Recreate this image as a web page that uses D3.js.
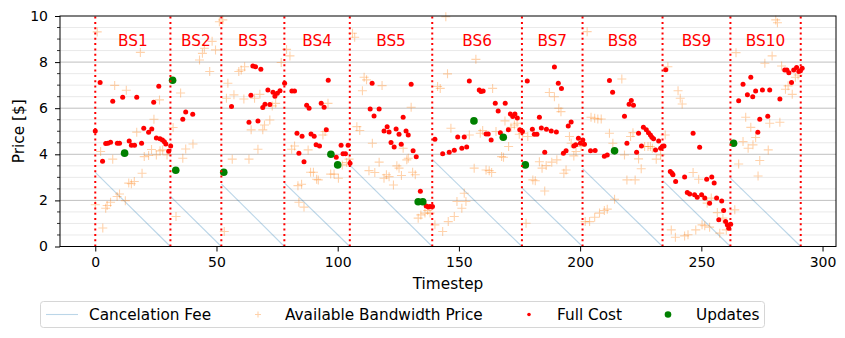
<!DOCTYPE html>
<html>
<head>
<meta charset="utf-8">
<script src="https://cdn.jsdelivr.net/npm/d3@7"></script>
<style>
  body { margin: 0; background: #fff; }
  svg { display: block; font-family: "DejaVu Sans", sans-serif; }
</style>
</head>
<body>
<div id="chart"></div>
<script>
// segment boundaries (timesteps) and labels
var bounds = [0, 31, 52, 78, 105, 139, 176, 201, 234, 262, 291];
var segLabels = ["BS1","BS2","BS3","BS4","BS5","BS6","BS7","BS8","BS9","BS10"];
// cancelation fee at the start of each segment, falls to 0 at its end
var feeStart = [3.22, 2.17, 2.72, 2.76, 3.53, 3.78, 2.54, 3.38, 2.87, 2.97];

var xTicks = [0, 50, 100, 150, 200, 250, 300];
var yTicks = [0, 2, 4, 6, 8, 10];

// [timestep, price]
var fullCost = [
  [0,5.01],[2,7.12],[3,3.70],[4.3,4.47],[5.2,4.48],[6.3,4.52],[7.2,6.30],[9.1,4.48],[10,4.48],[11.3,6.47],
  [14,4.58],[14.9,4.39],[16.2,4.39],[17.1,6.47],[19.1,4.48],[20,5.13],[22,4.96],[23.3,5.10],[24.1,6.26],
  [25.2,4.71],[26.2,6.95],[26.7,4.68],[27.7,4.62],[28.5,4.54],[29.1,4.45],[30.3,4.13],[31.1,4.36],
  [36.1,5.52],[37.3,5.84],[40.2,5.74],
  [56.2,6.07],[63.4,5.39],[64.2,6.56],[65,7.83],[66.1,7.80],[67.1,5.45],[68.3,7.69],[69.1,6.03],[70,6.17],
  [71.2,6.79],[72,6.16],[73.3,6.69],[74.1,6.52],[75.1,6.65],[76.2,6.76],[78.1,7.08],
  [81.1,6.75],[82.2,6.75],[83.2,4.91],[84,4.05],[85.3,4.78],[86.1,3.68],[87.2,6.13],[88.2,6.00],[89,4.88],
  [90.3,4.78],[91.1,4.41],[92.5,4.36],[93.2,6.21],[94.4,6.04],[95.3,5.06],[96.1,7.21],[99.4,3.87],
  [101.4,4.39],[102.2,4.02],[103.2,4.02],[104.3,4.39],[105.1,3.61],
  [113.4,5.97],[114.2,7.08],[115,5.66],[117.1,5.97],[119.1,5.01],[120.4,5.19],[121.2,4.97],[122,4.51],
  [123.3,4.32],[124.1,5.10],[125.3,4.87],[126.2,4.44],[127,5.61],[128.2,5.01],[129.1,4.84],[130.3,7.04],
  [131.1,4.15],[132.4,3.89],[134.1,2.40],[136.5,1.76],[137.4,1.71],[138.1,1.73],[139.1,1.73],[140.1,4.65],
  [143.3,4.02],[146,4.09],[148.1,4.18],[149.5,4.75],[151.2,4.26],[152.2,4.75],[153.2,4.32],[154.3,7.18],
  [158.4,6.79],[159.1,6.72],[160,6.75],[161.2,4.88],[162.1,4.88],[163.3,4.62],[165,6.21],[166.2,5.88],
  [167.1,4.93],[169.1,6.21],[170.4,5.06],[171.2,5.75],[172.2,5.64],[173.1,5.75],[174.1,5.58],[175.1,5.06],[176.2,4.99],
  [178.2,7.18],[180.3,5.09],[181.1,4.87],[182.2,4.87],[183.2,5.61],[184,5.14],[185.4,4.09],[186.1,5.09],
  [188.1,5.01],[189.4,7.79],[190.2,4.97],[191,7.08],[192.3,6.86],[193.1,4.05],[194.2,4.15],[195.1,5.23],
  [196.3,5.40],[197.4,4.36],[198.2,4.41],[199.3,4.70],[200.1,4.48],[201.1,4.62],[201.8,4.44],
  [204.3,4.15],[206.2,4.16],[210,3.92],[211.2,3.97],[212.1,7.20],[213.4,6.69],[218.3,5.65],[219.3,4.48],
  [220.2,6.17],[221.1,6.33],[222,6.13],[223.3,4.09],[224.1,4.91],[225.3,4.36],[226.1,5.17],[227.3,5.06],
  [228.2,4.94],[229,4.84],[229.6,4.74],[230.3,4.68],[231.1,4.19],[232.4,4.58],[233.2,4.26],[233.9,4.34],
  [234.6,4.36],[235.3,7.67],
  [237.2,3.25],[237.9,3.18],[238.3,3.11],[239.4,2.82],[243.1,3.01],[244.2,2.34],[245.2,2.28],[246.6,4.91],
  [247.2,2.24],[248.3,2.14],[249.3,4.31],[250.1,2.24],[251.4,2.10],[252.2,2.92],[253.4,1.88],[254.3,3.02],
  [255.3,2.75],[256.3,2.10],[257.2,1.16],[258.4,1.97],[259.2,1.56],[260,1.08],[260.7,0.94],[261.3,0.79],[262.1,0.97],
  [265.4,6.32],[267.2,7.04],[269,6.58],[270.4,7.34],[271.2,6.50],[272.4,6.75],[273.3,4.96],[274.1,5.52],
  [275.2,6.79],[277.4,5.65],[278.2,6.79],[282.4,6.40],[284.4,7.66],[285.3,7.66],[286.1,7.54],[287.2,7.12],
  [288.1,7.66],[289.3,7.77],[290.2,7.59],[290.9,7.63],[291.6,7.73]
];

var bandwidth = [
  [0,1.81],[0.8,9.31],[2.2,4.12],[3.1,0.80],[4.3,1.66],[4.9,1.78],[6.3,1.92],[7.2,3.79],[8,6.99],[9,2.17],
  [10,2.28],[12.4,1.99],[12.8,6.78],[13.8,2.75],[14.9,2.72],[16.1,2.82],[17.1,4.96],[18.6,8.42],[19.3,3.18],
  [20.2,3.90],[22,3.95],[23.2,4.21],[24.2,5.52],[25.2,3.97],[26.5,6.36],[26.7,4.15],[27.8,4.19],[29.6,3.97],[32.1,5.16],
  [33.3,1.30],[35.2,6.66],[36.1,3.83],[37.3,4.23],[40.3,4.45],[43,8.09],[44.2,8.38],[45,8.60],[47.2,7.59],
  [48.2,8.90],[49.6,8.53],[51.2,9.75],[52.6,9.83],
  [53.2,0.65],[54.1,6.43],[54.7,7.08],[56.5,3.79],[57.2,6.58],[59.2,7.59],[60.2,7.66],[61.3,6.40],[61.6,7.80],
  [63.4,3.79],[64.3,5.06],[65.7,6.43],[67.1,4.22],[67.9,6.60],[69.1,5.06],[69.8,5.27],[72,5.49],[73,6.10],
  [74.4,6.21],[76.7,7.98],[78.9,8.55],[80.3,8.27],
  [81,4.22],[82.2,4.36],[83.6,2.64],[84,1.92],[85.1,2.70],[86.1,1.71],[87.8,4.19],[88.8,3.22],[90,3.22],
  [91.3,2.92],[92,2.89],[93.9,4.84],[94.8,4.99],[96,6.21],[97.1,3.14],[98.5,3.14],[100.3,2.96],[101.9,3.54],
  [103.7,3.64],[104.7,3.79],[106.1,9.25],[107,9.08],
  [107.9,5.20],[109.1,5.03],[110.2,6.76],[110.9,7.34],[111.9,7.23],[112.9,3.29],[114.3,4.48],[115.3,3.21],
  [117.1,3.66],[118.3,6.98],[119.1,2.96],[120.1,3.11],[121.2,3.03],[123,2.67],[124.4,3.50],[125.3,3.40],
  [126.3,3.08],[127,4.26],[128.5,3.76],[129.1,3.83],[130.3,6.04],[130.9,3.22],[132,3.11],[133.2,1.23],
  [134.3,1.37],[136,1.45],[137.1,1.56],[138.1,1.45],
  [140.1,0.94],[141.2,6.94],[142.3,6.86],[143.3,0.65],[144.6,9.97],[145.3,7.49],[145.6,1.08],[146.7,5.13],
  [148.1,1.30],[149.2,1.95],[151.2,1.66],[152.2,2.31],[152.9,1.95],[154.3,4.84],[156.3,3.40],[157,8.12],
  [158.8,4.91],[159.8,5.03],[161.2,3.32],[162.5,3.29],[163.5,3.21],[163.9,6.86],[165.3,4.99],[167.6,3.90],
  [168.4,3.87],[169,5.45],[170.5,4.34],[171.5,5.17],[172.9,5.27],[174,5.35],[174.9,4.87],
  [176.3,4.91],[177.7,1.01],[178.4,4.77],[180.5,2.89],[181.5,2.85],[183.2,3.68],[184.3,3.40],[185.4,2.41],
  [186,3.51],[187.3,6.68],[188.3,3.66],[189.4,6.50],[190.4,3.76],[191.2,6.00],[192.1,5.85],[193.3,3.18],
  [194.2,3.32],[195.6,4.77],[196.3,4.48],[197.4,3.93],[198.3,4.12],[200.4,4.34],
  [202.1,1.08],[202.9,9.32],[203.9,1.08],[204.5,5.61],[206,5.56],[206,1.27],[207.3,5.53],[208,1.45],
  [208.7,5.53],[210,1.56],[211.2,1.62],[212.1,4.91],[213.5,4.48],[214.2,2.05],[217.2,7.27],[218.3,3.97],
  [219.3,2.89],[220.8,4.77],[221.8,4.94],[222.7,2.89],[224.1,3.80],[225.2,3.37],[226.6,4.34],[228,4.34],
  [229,4.34],[229.8,4.26],[231.4,3.79],[233.2,3.97],[235.1,4.84],[236.2,7.80],
  [237.6,0.72],[239.3,0.40],[240.4,6.76],[241.3,6.43],[242.1,6.18],[243.1,0.46],[244.5,0.51],[246.6,3.21],
  [247.7,0.72],[248.9,2.92],[250.3,0.94],[251.4,0.90],[252.4,1.88],[253.4,0.84],[254.1,2.10],[256.6,1.47],
  [257.6,0.58],[258.9,1.23],[260.3,0.72],[263.8,1.59],
  [264.3,8.41],[265.4,3.58],[267.2,4.55],[268.3,5.61],[269.3,4.26],[270.4,5.17],[271.3,4.41],[272.4,4.73],
  [273.4,3.06],[274.1,3.73],[276.2,7.95],[277.6,4.19],[278.2,5.35],[279.2,8.27],[280.7,9.83],[281.4,9.71],
  [282.4,5.39],[283.1,7.83],[284.7,6.82],[285.8,6.97],[287.5,6.60],[288.8,7.34],[289.9,7.44]
];

var updates = [
  [12.1,4.05],[31.9,7.21],[33.2,3.31],[53,3.22],[97.2,4.00],[100,3.54],[133.2,1.94],[135.1,1.94],
  [156.2,5.45],[168.3,4.74],[177.4,3.54],[214.2,4.15],[263.3,4.48]
];

var W = 845, H = 338;
var pL = 60, pR = 836, pT = 16, pB = 246.5;
var bigFont = "15.3px";

var x = d3.scaleLinear().domain([-14.55, 305.55]).range([pL, pR]);
var y = d3.scaleLinear().domain([0, 10]).range([pB, pT]);

var svg = d3.select("#chart").append("svg")
    .attr("width", W).attr("height", H);

// grid: minor every 0.5, major at ticks
var minor = d3.range(0.5, 10, 0.5).filter(function(v){ return v % 2 !== 0; });
svg.append("g").selectAll("line").data(minor).enter().append("line")
    .attr("x1", pL).attr("x2", pR)
    .attr("y1", function(d){ return y(d); }).attr("y2", function(d){ return y(d); })
    .attr("stroke", "#e3e3e3").attr("stroke-width", 0.8);
svg.append("g").selectAll("line").data(yTicks.slice(1, -1)).enter().append("line")
    .attr("x1", pL).attr("x2", pR)
    .attr("y1", function(d){ return y(d); }).attr("y2", function(d){ return y(d); })
    .attr("stroke", "#b0b0b0").attr("stroke-width", 0.8);

var plot = svg.append("g");

// cancelation fee per segment
var line = d3.line().x(function(d){ return x(d[0]); }).y(function(d){ return y(d[1]); });
var feeSegs = feeStart.map(function(f, i){ return [[bounds[i], f], [bounds[i+1], 0]]; });
plot.selectAll("path.fee").data(feeSegs).enter().append("path")
    .attr("class", "fee")
    .attr("d", line)
    .attr("fill", "none").attr("stroke", "#1f77b4").attr("stroke-opacity", 0.3).attr("stroke-width", 1.1);

// available bandwidth price: plus markers
plot.selectAll("path.bw").data(bandwidth).enter().append("path")
    .attr("class", "bw")
    .attr("d", "M-4.5,0H4.5M0,-4.5V4.5")
    .attr("transform", function(d){ return "translate(" + x(d[0]) + "," + y(d[1]) + ")"; })
    .attr("stroke", "#ff7f0e").attr("stroke-opacity", 0.35).attr("stroke-width", 1.1).attr("fill", "none");

// full cost
plot.selectAll("circle.fc").data(fullCost).enter().append("circle")
    .attr("class", "fc")
    .attr("cx", function(d){ return x(d[0]); }).attr("cy", function(d){ return y(d[1]); })
    .attr("r", 2.5).attr("fill", "#ff0000");

// updates
plot.selectAll("circle.up").data(updates).enter().append("circle")
    .attr("class", "up")
    .attr("cx", function(d){ return x(d[0]); }).attr("cy", function(d){ return y(d[1]); })
    .attr("r", 3.8).attr("fill", "#008000");

// segment boundaries
plot.selectAll("line.vb").data(bounds).enter().append("line")
    .attr("class", "vb")
    .attr("x1", function(d){ return x(d); }).attr("x2", function(d){ return x(d); })
    .attr("y1", pB).attr("y2", pT)
    .attr("stroke", "#ff0000").attr("stroke-width", 2).attr("stroke-dasharray", "2,3.3");

// segment labels
plot.selectAll("text.seg").data(segLabels).enter().append("text")
    .attr("class", "seg")
    .attr("x", function(d, i){ return x((bounds[i] + bounds[i+1]) / 2); })
    .attr("y", y(8.92))
    .attr("dy", "0.36em")
    .attr("text-anchor", "middle")
    .attr("fill", "#ff0000")
    .style("font-size", bigFont)
    .text(function(d){ return d; });

// axes
var xAxis = svg.append("g").attr("transform", "translate(0," + pB + ")")
    .call(d3.axisBottom(x).tickValues(xTicks).tickSize(5).tickPadding(6).tickSizeOuter(0));
var yAxis = svg.append("g").attr("transform", "translate(" + pL + ",0)")
    .call(d3.axisLeft(y).tickValues(yTicks).tickSize(5).tickPadding(7).tickSizeOuter(0));
yAxis.selectAll(".minor").data(minor).enter().append("line").attr("class", "minor")
    .attr("x1", 0).attr("x2", -3)
    .attr("y1", function(d){ return y(d); }).attr("y2", function(d){ return y(d); })
    .attr("stroke", "#000").attr("stroke-width", 0.8);
[xAxis, yAxis].forEach(function(a){
  a.selectAll("text").style("font-size", "14px").style("font-family", "DejaVu Sans").attr("fill", "#000");
  a.selectAll("line").attr("stroke", "#000");
  a.select(".domain").remove();
});

// frame
svg.append("rect").attr("x", pL).attr("y", pT)
    .attr("width", pR - pL).attr("height", pB - pT)
    .attr("fill", "none").attr("stroke", "#000").attr("stroke-width", 1);

svg.append("text").attr("x", (pL + pR) / 2).attr("y", 289)
    .attr("text-anchor", "middle").style("font-size", bigFont).text("Timestep");
svg.append("text").attr("transform", "translate(23.5," + ((pT + pB) / 2) + ") rotate(-90)")
    .attr("text-anchor", "middle").style("font-size", bigFont).text("Price [$]");

// legend
var lg = svg.append("g");
lg.append("rect").attr("x", 40.5).attr("y", 301.5).attr("width", 724).attr("height", 26).attr("rx", 3)
    .attr("fill", "#fff").attr("fill-opacity", 0.8).attr("stroke", "#d6d6d6");
var ly = 314.5;
lg.append("line").attr("x1", 46).attr("x2", 78).attr("y1", ly).attr("y2", ly)
    .attr("stroke", "#1f77b4").attr("stroke-opacity", 0.3).attr("stroke-width", 1.1);
lg.append("path").attr("d", "M-3,0H3M0,-3V3").attr("transform", "translate(258," + ly + ")")
    .attr("stroke", "#ff7f0e").attr("stroke-opacity", 0.35).attr("stroke-width", 1.1);
lg.append("circle").attr("cx", 529).attr("cy", ly).attr("r", 1.8).attr("fill", "#ff0000");
lg.append("circle").attr("cx", 668).attr("cy", ly).attr("r", 3.3).attr("fill", "#008000");
var legText = [["Cancelation Fee", 89], ["Available Bandwidth Price", 285], ["Full Cost", 557], ["Updates", 696]];
lg.selectAll("text").data(legText).enter().append("text")
    .attr("x", function(d){ return d[1]; }).attr("y", ly).attr("dy", "0.36em")
    .style("font-size", bigFont).text(function(d){ return d[0]; });
</script>
</body>
</html>
